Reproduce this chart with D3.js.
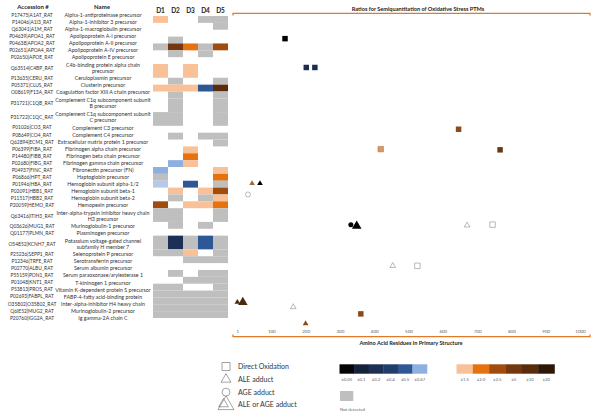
<!DOCTYPE html>
<html><head><meta charset="utf-8">
<script src="https://cdn.jsdelivr.net/npm/d3@7/dist/d3.min.js"></script>
<style>body{margin:0;background:#fff}svg{display:block;font-family:Lato,'Open Sans',sans-serif}</style>
</head><body><svg id="c" width="600" height="419"></svg>
<script>
// ---------- DATA ----------
const accessions = ["P17475|A1AT_RAT","P14046|A1I3_RAT","Q63041|A1M_RAT","P04639|APOA1_RAT","P04638|APOA2_RAT","P02651|APOA4_RAT","P02650|APOE_RAT","Q63514|C4BP_RAT","P13635|CERU_RAT","P05371|CLUS_RAT","O08619|F13A_RAT","P31721|C1QB_RAT","P31722|C1QC_RAT","P01026|CO3_RAT","P08649|CO4_RAT","Q62894|ECM1_RAT","P06399|FIBA_RAT","P14480|FIBB_RAT","P02680|FIBG_RAT","P04937|FINC_RAT","P06866|HPT_RAT","P01946|HBA_RAT","P02091|HBB1_RAT","P11517|HBB2_RAT","P20059|HEMO_RAT","Q63416|ITIH3_RAT","Q03626|MUG1_RAT","Q01177|PLMN_RAT","O54852|KCNH7_RAT","P25236|SEPP1_RAT","P12346|TRFE_RAT","P02770|ALBU_RAT","P55159|PON1_RAT","P01048|KNT1_RAT","P53813|PROS_RAT","P02693|FABPL_RAT","O35802|O35802_RAT","Q6IE52|MUG2_RAT","P20760|IGG2A_RAT"];
const names = ["Alpha-1-antiproteinase precursor","Alpha-1-inhibitor 3 precursor","Alpha-1-macroglobulin precursor","Apolipoprotein A-I precursor","Apolipoprotein A-II precursor","Apolipoprotein A-IV precursor","Apolipoprotein E precursor","C4b-binding protein alpha chain|precursor","Ceruloplasmin precursor","Clusterin precursor","Coagulation factor XIII A chain precursor","Complement C1q subcomponent subunit|B precursor","Complement C1q subcomponent subunit|C precursor","Complement C3 precursor","Complement C4 precursor","Extracellular matrix protein 1 precursor","Fibrinogen alpha chain precursor","Fibrinogen beta chain precursor","Fibrinogen gamma chain precursor","Fibronectin precursor (FN)","Haptoglobin precursor","Hemoglobin subunit alpha-1/2","Hemoglobin subunit beta-1","Hemoglobin subunit beta-2","Hemopexin precursor","Inter-alpha-trypsin inhibitor heavy chain|H3 precursor","Murinoglobulin-1 precursor","Plasminogen precursor","Potassium voltage-gated channel|subfamily H member 7","Selenoprotein P precursor","Serotransferrin precursor","Serum albumin precursor","Serum paraoxonase/arylesterase 1","T-kininogen 1 precursor","Vitamin K-dependent protein S precursor","FABP-4-fatty acid-binding protein","Inter-alpha-inhibitor H4 heavy chain","Murinoglobulin-2 precursor","Ig gamma-2A chain C"];
const rowSpan = [1,1,1,1,1,1,1,2,1,1,1,2,2,1,1,1,1,1,1,1,1,1,1,1,1,2,1,1,2,1,1,1,1,1,1,1,1,1,1];
const columns = ["D1","D2","D3","D4","D5"];
// codes: "" none, n = not detected, b1..b6 = ratio <= thresholds, bl = faint, o1..o6 = ratio >= thresholds
const cells = [
 ["o1","","","n","n"],["","","","","n"],["","","","",""],["","n","","",""],
 ["n","o4","o2","n","o3"],["","n","","n",""],["","","","",""],["o1","","o1","",""],
 ["","n","","","n"],["o1","o1","o1","b5","o5"],["","n","","","n"],["","n","","","n"],
 ["n","n","","","n"],["","","","",""],["","n","","n","n"],["","","","","n"],
 ["","","o1","",""],["","","o2","",""],["","b6","o1","",""],["b6","","","","o1"],
 ["n","","","","o2"],["bl","","b5","","n"],["","o1","","o1","o3"],["","n","","n","o1"],
 ["o3","","o1","o1","o2"],["n","n","","","n"],["","n","","n",""],["","","","",""],
 ["n","b3","n","b5","n"],["n","n","o1","","n"],["","","n","n","n"],["","","","",""],
 ["","n","","n","n"],["","","n","n","n"],["n","n","","","n"],["n","n","n","n","n"],
 ["n","n","n","n","n"],["n","n","n","n","n"],["n","n","n","n","n"]];
const blueCodes = ["b1","b2","b3","b4","b5","b6"];
const blueLabels = ["\u22640.05","\u22640.1","\u22640.2","\u22640.4","\u22640.5","\u22640.67"];
const orangeCodes = ["o1","o2","o3","o4","o5","o6"];
const orangeLabels = ["\u22651.5","\u22652.0","\u22652.5","\u22655","\u226510","\u226520"];
const xTicks = [1,100,200,300,400,500,600,700,800,900,1000];
// PTM marks: residue position, row position (table units), type, ratio class
const markResidue = [140,202,227,646,419,767,44,67,32,332,349,671,745,454,526,1,17,164,361,200];
const markRow = [2.8,7,7,16,18.9,19,23.9,23.9,25.5,29.9,30.1,30,29.9,35.9,35.9,41.2,41.2,41.9,42.9,44.3];
const markType = ["direct","direct","direct","direct","direct","direct","ale","ale","age","age","aleage","ale","direct","ale","direct","ale","aleage","ale","direct","ale"];
const markClass = ["b1","b2","b2","o3","o1","o4","o2","b1","none","b1","b1","none","none","none","none","o5","o5","none","o3","o3"];
const legendTypes = ["direct","ale","age","aleage"];
const legendLabels = ["Direct Oxidation","ALE adduct","AGE adduct","ALE or AGE adduct"];

// ---------- STYLES ----------
const cellColor = {n:"#bfbfbf",b1:"#050507",b2:"#14213b",b3:"#1c2f55",b4:"#213e69",b5:"#2d5895",b6:"#8db0e0",bl:"#b4c9eb",
  o1:"#f8c197",o2:"#e6710f",o3:"#a14c0f",o4:"#73380f",o5:"#5a2b0c",o6:"#2e1708"};
const markColor = {b1:"#000000",b2:"#1d2d50",o1:"#d49a66",o2:"#a06c44",o3:"#8a4a1c",o4:"#6a3712",o5:"#4a2a0c"};
const orange = "#e07b2a";
const svg = d3.select("#c");

// row layout
const rowStart = []; let acc = 0;
rowSpan.forEach(s => { rowStart.push(acc); acc += s; });
const totalUnits = acc;
const yCell = d3.scaleLinear().domain([0,totalUnits]).range([16,318]);
const yText = d3.scaleLinear().domain([0,totalUnits]).range([11.6,321.4]);
const xCol = d3.scaleBand().domain(columns).range([153,228]);
const xRes = d3.scaleLinear().domain([0,1000]).range([237,580]);

// headers
svg.append("text").attr("x",33).attr("y",9).attr("text-anchor","middle").attr("font-size",6).attr("font-weight","bold").attr("fill","#222").text("Accession #");
svg.append("text").attr("x",102).attr("y",9).attr("text-anchor","middle").attr("font-size",6).attr("font-weight","bold").attr("fill","#222").text("Name");
svg.selectAll(".colh").data(columns).join("text").attr("x",d=>xCol(d)+xCol.bandwidth()/2).attr("y",13)
  .attr("text-anchor","middle").attr("font-size",6.5).attr("font-weight","bold").attr("fill","#222").text(d=>d);

// table text
svg.append("clipPath").attr("id","nameclip").append("rect").attr("x",55).attr("y",0).attr("width",97).attr("height",330);
const tg = svg.append("g").attr("fill","#333");
accessions.forEach((a,i)=>{
  const cy = yText(rowStart[i] + rowSpan[i]/2);
  tg.append("text").attr("x",32).attr("y",cy).attr("dy","0.35em").attr("text-anchor","middle").attr("font-size",4.9).text(a);
  const parts = names[i].split("|");
  parts.forEach((p,j)=>{
    const off = parts.length===2 ? (j===0?-3:3) : 0;
    tg.append("text").attr("x",103).attr("y",cy+off).attr("dy","0.35em").attr("text-anchor","middle").attr("font-size",5.3)
      .attr("clip-path","url(#nameclip)").text(p);
  });
});

// heatmap
const cellData = [];
cells.forEach((r,i)=>r.forEach((c,j)=>{ if(c) cellData.push({i,col:columns[j],c}); }));
svg.append("g").selectAll("rect").data(cellData).join("rect")
  .attr("x",d=>xCol(d.col)).attr("width",xCol.bandwidth())
  .attr("y",d=>yCell(rowStart[d.i])).attr("height",d=>yCell(rowStart[d.i]+rowSpan[d.i])-yCell(rowStart[d.i]))
  .attr("fill",d=>cellColor[d.c]);

// plot frame lines
svg.append("path").attr("d",`M${xRes(0)-4},15.5 L${xRes(0)-4},13.3 L${xRes(1000)+10},13.3 L${xRes(1000)+10},15.5`)
  .attr("fill","none").attr("stroke",orange).attr("stroke-width",1.3);
svg.append("path").attr("d",`M${xRes(0)-4},334.5 L${xRes(0)-4},336.7 L${xRes(1000)+10},336.7 L${xRes(1000)+10},334.5`)
  .attr("fill","none").attr("stroke",orange).attr("stroke-width",1.3);
svg.append("text").attr("x",418).attr("y",10.5).attr("text-anchor","middle").attr("font-size",5.6).attr("font-weight","bold").attr("fill","#222")
  .text("Ratios for Semiquantitation  of Oxidative Stress PTMs");
svg.append("text").attr("x",411).attr("y",345).attr("text-anchor","middle").attr("font-size",5.6).attr("font-weight","bold").attr("fill","#222")
  .text("Amino Acid Residues in Primary Structure");

// x axis
const ax = svg.append("g").attr("transform","translate(0,331)")
  .call(d3.axisBottom(xRes).tickValues(xTicks).tickSize(0).tickPadding(0).tickFormat(d3.format("d")));
ax.select(".domain").remove();
ax.selectAll("text").attr("font-size",4.5).attr("fill","#666").attr("font-family","Lato,sans-serif").attr("dy","0.35em");

// marks
const symSize = {direct:30, ale:14, age:20, aleage:40};
const symType = {direct:d3.symbolSquare, ale:d3.symbolTriangle, age:d3.symbolCircle, aleage:d3.symbolTriangle};
const marks = markResidue.map((r,i)=>({r,row:markRow[i],t:markType[i],c:markClass[i]}));
svg.append("g").selectAll("path").data(marks).join("path")
  .attr("transform",d=>`translate(${xRes(d.r)},${yCell(d.row+0.5)})`)
  .attr("d",d=>d3.symbol().type(symType[d.t]).size(symSize[d.t])())
  .attr("fill",d=>d.c==="none"?"#fff":markColor[d.c])
  .attr("stroke",d=>d.c==="none"?"#8a8a8a":(d.c==="o1"?"#b07a4c":"none"))
  .attr("stroke-width",0.6);

// shape legend
const ly = d3.scalePoint().domain(legendTypes).range([366.5,405]);
const lsize = {direct:64, ale:42, age:50, aleage:110};
legendTypes.forEach((t,i)=>{
  svg.append("path").attr("transform",`translate(226,${ly(t)})`)
    .attr("d",d3.symbol().type(symType[t]).size(lsize[t])()).attr("fill","#fff").attr("stroke","#666").attr("stroke-width",0.6);
  if(t==="aleage"){
    svg.append("path").attr("transform",`translate(223.5,${ly(t)-1})`)
      .attr("d",d3.symbol().type(d3.symbolTriangle).size(40)()).attr("fill","none").attr("stroke","#666").attr("stroke-width",0.6);
  }
  svg.append("text").attr("x",238).attr("y",ly(t)).attr("dy","0.35em").attr("font-size",7).attr("fill","#333").text(legendLabels[i]);
});

// colour legend
const xb = d3.scaleBand().domain(blueCodes).range([339.5,427]);
const xo = d3.scaleBand().domain(orangeCodes).range([456.5,554.5]);
[[xb,blueCodes,blueLabels],[xo,orangeCodes,orangeLabels]].forEach(([sc,codes,labs])=>{
  svg.append("g").selectAll("rect").data(codes).join("rect").attr("x",d=>sc(d)).attr("width",sc.bandwidth()+0.3)
    .attr("y",364.3).attr("height",9.4).attr("fill",d=>cellColor[d]);
  svg.append("g").selectAll("text").data(codes).join("text").attr("x",d=>sc(d)+sc.bandwidth()/2).attr("y",380.5)
    .attr("text-anchor","middle").attr("font-size",4.3).attr("fill","#666").text((d,i)=>labs[i]);
});
svg.append("rect").attr("x",340).attr("y",391).attr("width",13.3).attr("height",10).attr("fill",cellColor.n);
svg.append("text").attr("x",340).attr("y",410.5).attr("font-size",4.3).attr("fill","#666").text("Not detected");
</script></body></html>
